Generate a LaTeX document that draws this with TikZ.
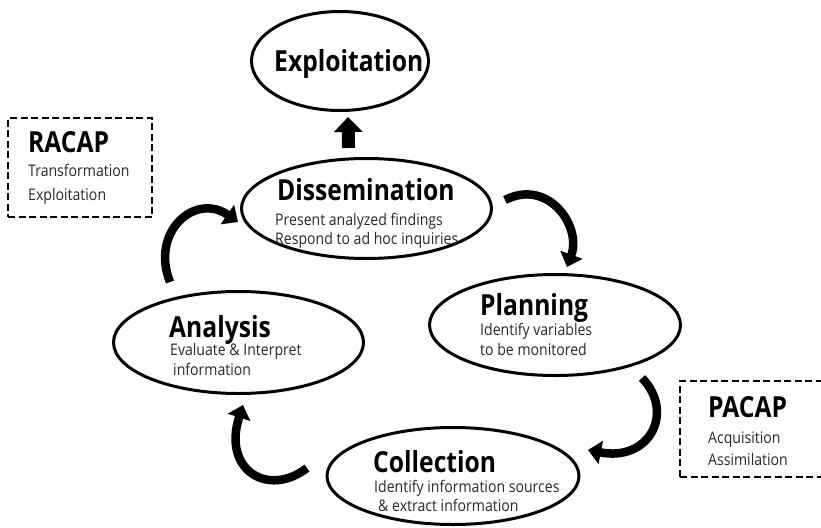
\documentclass[tikz,border=0pt]{standalone}
\usepackage{fontspec}
\setmainfont{Open Sans}
\newfontfamily\headfont[FakeStretch=0.85]{Open Sans}
\newfontfamily\notefont[FakeStretch=0.88]{Open Sans}
\usetikzlibrary{shapes.geometric, arrows.meta, positioning, calc}
\definecolor{notegray}{RGB}{40,40,40}

\begin{document}
\begin{tikzpicture}[x=1pt, y=-1pt,
    stage/.style={draw, ellipse, line width=3pt, inner sep=0pt},
    head/.style={inner sep=0pt, anchor=base west, font=\headfont\bfseries\fontsize{29}{31}\selectfont},
    note/.style={inner sep=0pt, anchor=base west, text=notegray, font=\notefont\fontsize{16}{18}\selectfont},
    frame/.style={draw, line width=2.2pt, dash pattern=on 7pt off 3.5pt, inner sep=0pt},
    turn/.style={line width=8.5pt, -{Triangle[length=13pt, width=23pt]}},
    lift/.style={line width=13pt, -{Triangle[length=15pt, width=28pt]}}]
    \useasboundingbox (0,0) rectangle (821,527);

    % Stages of the cycle
    \node[stage, minimum width=177pt, minimum height=99pt] (exp) at (340,61) {};
    \node[stage, minimum width=250pt, minimum height=100pt] (dis) at (366.5,208.5) {};
    \node[stage, minimum width=251pt, minimum height=101pt] (pla) at (555,325) {};
    \node[stage, minimum width=250pt, minimum height=102pt] (ana) at (238.5,342.5) {};
    \node[stage, minimum width=252pt, minimum height=97pt] (col) at (453,476) {};

    % Titles and notes
    \node[head] (exp-t) at (274,71) {Exploitation};

    \node[head] (dis-t) at (277,200) {Dissemination};
    \node[note] (dis-a) at (275,225) {Present analyzed findings};
    \node[note] (dis-b) at (275,244) {Respond to ad hoc inquiries};

    \node[head] (pla-t) at (480,315) {Planning};
    \node[note] (pla-a) at (480,335) {Identify variables};
    \node[note] (pla-b) at (480,355) {to be monitored};

    \node[head] (ana-t) at (169,337) {Analysis};
    \node[note] (ana-a) at (170,355) {Evaluate \& Interpret};
    \node[note] (ana-b) at (173,375) {information};

    \node[head] (col-t) at (373,472) {Collection};
    \node[note] (col-a) at (374,492) {Identify information sources};
    \node[note] (col-b) at (378,511) {\& extract information};

    % Side boxes
    \node[frame, minimum width=144pt, minimum height=99pt] (racap) at (80,167.5) {};
    \node[head] (racap-t) at (28,152) {RACAP};
    \node[note] (racap-a) at (28,176) {Transformation};
    \node[note] (racap-b) at (28,200) {Exploitation};

    \node[frame, minimum width=144pt, minimum height=96pt] (pacap) at (752,429) {};
    \node[head] (pacap-t) at (708,417) {PACAP};
    \node[note] (pacap-a) at (708,443) {Acquisition};
    \node[note] (pacap-b) at (708,465) {Assimilation};

    % Arrows
    \draw[lift] ([xshift=-18pt,yshift=9pt]dis.north) -- ([xshift=8pt,yshift=-5pt]exp.south);

    \coordinate (da) at (170,282);
    \coordinate (db) at (238,222);
    \draw[turn] (da) .. controls (150,232) and (195,192) .. (db);

    \coordinate (pa) at (505,200);
    \coordinate (pb) at (567,267);
    \draw[turn] (pa) .. controls (548,178) and (582,226) .. (pb);

    \coordinate (ca) at (642,378);
    \coordinate (cb) at (588,450);
    \draw[turn] (ca) .. controls (675,412) and (650,462) .. (cb);

    \coordinate (aa) at (307,468);
    \coordinate (ab) at (243,405);
    \draw[turn] (aa) .. controls (268,498) and (222,470) .. (ab);

\end{tikzpicture}
\end{document}
